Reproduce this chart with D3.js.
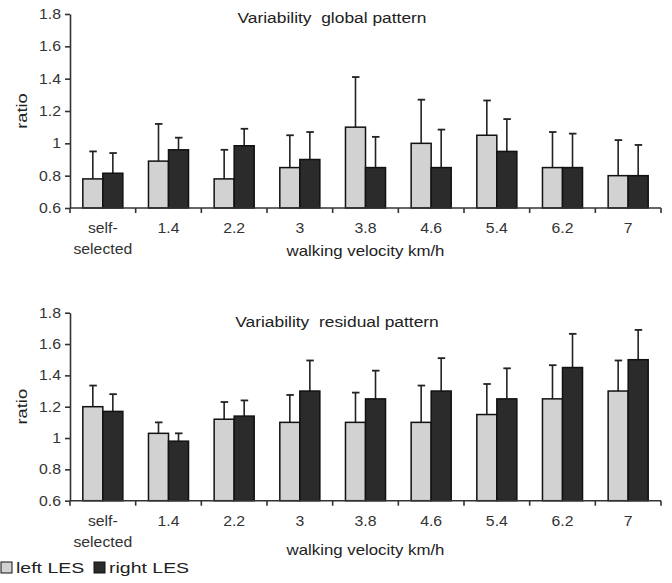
<!DOCTYPE html>
<html>
<head>
<meta charset="UTF-8">
<title>Variability ratio by walking velocity</title>
<script src="https://cdn.jsdelivr.net/npm/d3@7"></script>
<style>
    body { margin: 0; padding: 0; background: #fff; }
    svg { display: block; font-family: "Liberation Sans", Arial, sans-serif; }
    .axis path, .axis line { stroke: #333; stroke-width: 1.6px; }
    .axis text { fill: #333; }
    text { fill: #222; }
</style>
</head>
<body>
<div id="chart"></div>
<script>
// categories on the x axis (walking velocity)
var categories = ["self-selected", "1.4", "2.2", "3", "3.8", "4.6", "5.4", "6.2", "7"];
var tickLabels = [["self-", "selected"], ["1.4"], ["2.2"], ["3"], ["3.8"], ["4.6"], ["5.4"], ["6.2"], ["7"]];
var yTicks = [0.6, 0.8, 1, 1.2, 1.4, 1.6, 1.8];
var seriesNames = ["left LES", "right LES"];

// global pattern: means and upper error bar ends
var globalLeft = [0.78, 0.89, 0.78, 0.85, 1.10, 1.00, 1.05, 0.85, 0.80];
var globalLeftErr = [0.95, 1.12, 0.96, 1.05, 1.41, 1.27, 1.265, 1.07, 1.02];
var globalRight = [0.815, 0.96, 0.985, 0.90, 0.85, 0.85, 0.95, 0.85, 0.80];
var globalRightErr = [0.94, 1.035, 1.09, 1.07, 1.04, 1.085, 1.15, 1.06, 0.99];

// residual pattern
var residLeft = [1.20, 1.03, 1.12, 1.10, 1.10, 1.10, 1.15, 1.25, 1.30];
var residLeftErr = [1.335, 1.10, 1.23, 1.275, 1.29, 1.335, 1.345, 1.465, 1.495];
var residRight = [1.17, 0.98, 1.14, 1.30, 1.25, 1.30, 1.25, 1.45, 1.50];
var residRightErr = [1.28, 1.03, 1.24, 1.495, 1.43, 1.51, 1.445, 1.665, 1.69];

var colors = ["#d2d2d2", "#2b2b2b"];

var svg = d3.select("#chart").append("svg")
    .attr("width", 672)
    .attr("height", 583);

// the source figure has its lettering stretched sideways, so text is scaled on x
function label(parent, x, y, str, size, k, anchor) {
    return parent.append("text")
        .attr("transform", "translate(" + x + "," + y + ") scale(" + k + ",1)")
        .attr("text-anchor", anchor || "middle")
        .style("font-size", size + "px")
        .text(str);
}

function panel(opts) {
    var x = d3.scaleBand().domain(categories).range([70, 661]).padding(0);
    var x1 = d3.scaleBand().domain([0, 1]).range([0, x.bandwidth()]).paddingInner(0).paddingOuter(0.64);
    var y = d3.scaleLinear().domain([0.6, 1.8]).range([opts.bottom, opts.top]);
    var g = svg.append("g");

    label(g, opts.titleX, opts.titleY, opts.title, 14.5, 1.2);

    var series = [
        { vals: opts.left, errs: opts.leftErr },
        { vals: opts.right, errs: opts.rightErr }
    ];
    series.forEach(function (s, si) {
        var sg = g.append("g");
        var cx = function (c) { return x(c) + x1(si) + x1.bandwidth() / 2; };
        // error bars first so bars sit over the stem
        sg.selectAll("line.stem")
            .data(categories)
            .enter().append("line")
            .attr("class", "stem")
            .attr("x1", cx)
            .attr("x2", cx)
            .attr("y1", function (c, i) { return y(s.vals[i]); })
            .attr("y2", function (c, i) { return y(s.errs[i]); })
            .style("stroke", "#222")
            .style("stroke-width", "1.6px");
        sg.selectAll("line.cap")
            .data(categories)
            .enter().append("line")
            .attr("class", "cap")
            .attr("x1", function (c) { return cx(c) - 3.5; })
            .attr("x2", function (c) { return cx(c) + 4; })
            .attr("y1", function (c, i) { return y(s.errs[i]); })
            .attr("y2", function (c, i) { return y(s.errs[i]); })
            .style("stroke", "#222")
            .style("stroke-width", "1.8px");
        sg.selectAll("rect")
            .data(categories)
            .enter().append("rect")
            .attr("x", function (c) { return x(c) + x1(si); })
            .attr("width", x1.bandwidth())
            .attr("y", function (c, i) { return y(s.vals[i]); })
            .attr("height", function (c, i) { return y(0.6) - y(s.vals[i]); })
            .style("fill", colors[si])
            .style("stroke", "#111")
            .style("stroke-width", "1.5px");
    });

    // y axis
    var kTick = 1.13;
    g.append("g")
        .attr("class", "axis")
        .attr("transform", "translate(70,0)")
        .call(d3.axisLeft(y).tickValues(yTicks).tickSize(5).tickSizeOuter(0).tickPadding(4)
            .tickFormat(function (d) { return String(+d.toFixed(1)); }))
        .selectAll("text")
        .style("font-size", "14px")
        .attr("x", -9 / kTick)
        .attr("transform", "scale(" + kTick + ",1)");

    // x axis: baseline with tick marks at band boundaries
    var xa = g.append("g")
        .attr("class", "axis")
        .attr("transform", "translate(0," + y(0.6) + ")");
    xa.append("line")
        .attr("x1", 70).attr("x2", 661)
        .attr("y1", 0).attr("y2", 0);
    var bounds = categories.map(function (c) { return x(c); }).concat([x.range()[1]]);
    xa.selectAll("line.tick")
        .data(bounds)
        .enter().append("line")
        .attr("class", "tick")
        .attr("x1", function (d) { return d; })
        .attr("x2", function (d) { return d; })
        .attr("y1", 0).attr("y2", 5);
    var lbl = xa.selectAll("g.lbl")
        .data(tickLabels)
        .enter().append("g")
        .attr("class", "lbl")
        .attr("transform", function (d, i) { return "translate(" + (x(categories[i]) + x.bandwidth() / 2) + ",25)"; })
        .append("text")
        .attr("transform", "scale(" + kTick + ",1)")
        .attr("text-anchor", "middle")
        .style("font-size", "14px");
    lbl.selectAll("tspan")
        .data(function (d) { return d; })
        .enter().append("tspan")
        .attr("x", 0)
        .attr("dy", function (d, i) { return i === 0 ? 0 : 21.5; })
        .text(function (d) { return d; });

    // axis titles
    label(g, 365.5, y(0.6) + opts.xTitleDy, "walking velocity km/h", 14.5, 1.16);
    g.append("text")
        .attr("transform", "translate(27," + (opts.top + opts.bottom) / 2 + ") rotate(-90) scale(1.22,1)")
        .attr("text-anchor", "middle")
        .style("font-size", "15px")
        .text("ratio");
}

panel({
    title: "Variability\u00a0 global pattern",
    titleX: 332, titleY: 23,
    top: 14, bottom: 208,
    xTitleDy: 48,
    left: globalLeft, leftErr: globalLeftErr,
    right: globalRight, rightErr: globalRightErr
});

panel({
    title: "Variability\u00a0 residual pattern",
    titleX: 337, titleY: 327,
    top: 312.7, bottom: 500.7,
    xTitleDy: 54,
    left: residLeft, leftErr: residLeftErr,
    right: residRight, rightErr: residRightErr
});

// legend
var legend = svg.append("g").attr("transform", "translate(1,562)");
var items = [{ x: 0, tx: 15 }, { x: 93, tx: 108 }];
items.forEach(function (it, i) {
    legend.append("rect")
        .attr("x", it.x).attr("y", 0)
        .attr("width", 11).attr("height", 11)
        .style("fill", colors[i])
        .style("stroke", "#111")
        .style("stroke-width", "1px");
    label(legend, it.tx, 11, seriesNames[i], 15, 1.3, "start");
});
</script>
</body>
</html>
